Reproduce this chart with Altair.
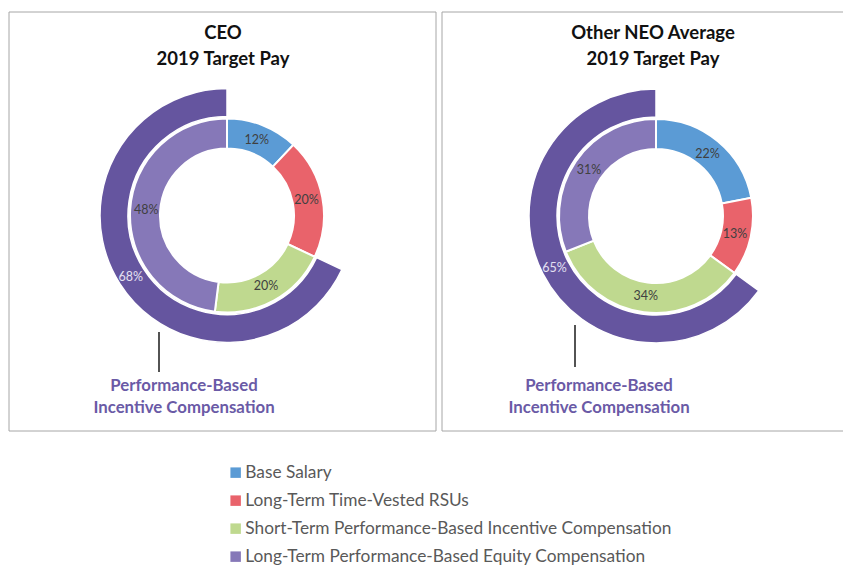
import altair as alt
import pandas as pd

# ---- data ----
categories = [
    "Base Salary",
    "Long-Term Time-Vested RSUs",
    "Short-Term Performance-Based Incentive Compensation",
    "Long-Term Performance-Based Equity Compensation",
]
colors = ["#5B9BD5", "#E9636B", "#BFD98F", "#8678B8"]
panels = ["CEO", "Other NEO Average"]
titles = [["CEO", "2019 Target Pay"], ["Other NEO Average", "2019 Target Pay"]]
ceo_values = [12, 20, 20, 48]
neo_values = [22, 13, 34, 31]
perf_values = [68, 65]  # Performance-based incentive compensation (outer arc)
annotation = ["Performance-Based", "Incentive Compensation"]


def inner_table(values):
    rows = []
    start = 0
    for c, v in zip(categories, values):
        rows.append({"category": c, "start": start, "end": start + v,
                     "mid": start + v / 2, "label": f"{v}%"})
        start += v
    return pd.DataFrame(rows)


def outer_table(perf):
    return pd.DataFrame([{"start": 100 - perf, "end": 100,
                          "mid": 100 - perf / 2, "label": f"{perf}%"}])


theta_scale = alt.Scale(domain=[0, 100])
color_scale = alt.Scale(domain=categories, range=colors)
FONT = "Lato"

# layout (pixels)
layout = [
    dict(cx=219, cy=207.5, px=1, px2=428, tx=215, lx=151, ly=324, ly2=364, ax=176),
    dict(cx=648, cy=208, px=434, px2=860, tx=645, lx=567, ly=317, ly2=359, ax=591),
]

blank = pd.DataFrame({"a": [0]})
layers = []
for i, (vals, perf, L) in enumerate(zip([ceo_values, neo_values], perf_values, layout)):
    inner = inner_table(vals)
    outer = outer_table(perf)
    cx, cy = alt.value(L["cx"]), alt.value(L["cy"])

    border = alt.Chart(blank).mark_rect(filled=False, stroke="#A6A6A6", strokeWidth=1).encode(
        x=alt.value(L["px"]), x2=alt.value(L["px2"]), y=alt.value(4), y2=alt.value(423))

    title = alt.Chart(blank).mark_text(
        text=titles[i], font=FONT, fontSize=18.5, fontWeight="bold", color="#111111",
        lineHeight=26, baseline="middle").encode(x=alt.value(L["tx"]), y=alt.value(25))

    outer_arc = alt.Chart(outer).mark_arc(
        innerRadius=99, outerRadius=127, color="#65559F", stroke="white", strokeWidth=1.5).encode(
        theta=alt.Theta("start:Q", stack=None, scale=theta_scale), theta2="end:Q", x=cx, y=cy)

    inner_arc = alt.Chart(inner).mark_arc(
        innerRadius=67, outerRadius=97, stroke="white", strokeWidth=2).encode(
        theta=alt.Theta("start:Q", stack=None, scale=theta_scale), theta2="end:Q",
        color=alt.Color("category:N", scale=color_scale, sort=categories,
                        legend=alt.Legend(orient="none", legendX=219, legendY=456, title=None,
                                          symbolType="square", symbolSize=110,
                                          symbolStrokeWidth=0, labelFont=FONT,
                                          labelFontSize=17.3, labelColor="#595959",
                                          rowPadding=10, labelOffset=1, labelLimit=700,
                                          direction="vertical")),
        x=cx, y=cy)

    inner_lbl = alt.Chart(inner).mark_text(radius=81, font=FONT, fontSize=12.5, color="#404040").encode(
        theta=alt.Theta("mid:Q", stack=None, scale=theta_scale), text="label:N", x=cx, y=cy)

    outer_lbl = alt.Chart(outer).mark_text(radius=114, font=FONT, fontSize=12.5, color="#E4E0F2").encode(
        theta=alt.Theta("mid:Q", stack=None, scale=theta_scale), text="label:N", x=cx, y=cy)

    rule = alt.Chart(blank).mark_rule(color="#1a1a1a", strokeWidth=1.5).encode(
        x=alt.value(L["lx"]), y=alt.value(L["ly"]), y2=alt.value(L["ly2"]))

    ann = alt.Chart(blank).mark_text(
        text=annotation, font=FONT, fontSize=16.8, fontWeight="bold", color="#6A5AA6",
        lineHeight=22, baseline="middle").encode(x=alt.value(L["ax"]), y=alt.value(377.5))

    layers += [border, title, outer_arc, inner_arc, inner_lbl, outer_lbl, rule, ann]

chart = alt.layer(*layers).properties(
    width=835, height=557, padding=0, autosize=alt.AutoSizeParams(type="none")
).configure_view(stroke=None)

chart.save("out.html", embed_options={"renderer": "svg", "actions": False})
